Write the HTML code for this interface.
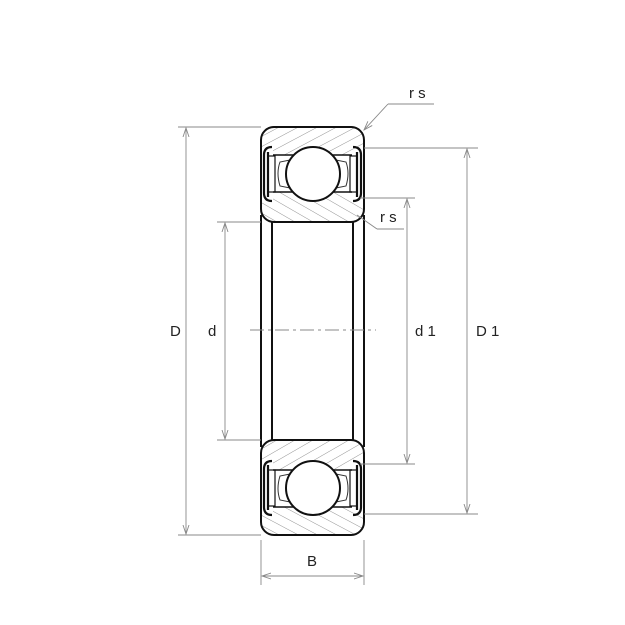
<!DOCTYPE html>
<html><head><meta charset="utf-8"><style>
html,body{margin:0;padding:0;background:#fff;}
svg{display:block;}
text{font-family:"Liberation Sans",sans-serif;font-size:15px;fill:#222;}
</style></head><body>
<svg width="625" height="625" viewBox="0 0 625 625" xmlns="http://www.w3.org/2000/svg">
<defs>
<pattern id="h1" width="9" height="9" patternUnits="userSpaceOnUse" patternTransform="rotate(62)">
<line x1="0" y1="0" x2="0" y2="9" stroke="#777" stroke-width="0.8"/>
</pattern>
<pattern id="h2" width="9" height="9" patternUnits="userSpaceOnUse" patternTransform="rotate(-60)">
<line x1="0" y1="0" x2="0" y2="9" stroke="#777" stroke-width="0.8"/>
</pattern>
<marker id="a" markerWidth="10" markerHeight="8" refX="9" refY="4" orient="auto" markerUnits="userSpaceOnUse">
<path d="M0,1 L9,4 L0,7" fill="none" stroke="#888" stroke-width="0.9"/>
</marker>
<g id="ring">
<path d="M261,140 Q261,127 274,127 L351,127 Q364,127 364,140 L364,150 L352,150 L352,155 L273,155 L273,150 L261,150 Z" fill="url(#h1)"/>
<path d="M261,200 L273,200 L273,192 L352,192 L352,200 L364,200 L364,209 Q364,222 351,222 L274,222 Q261,222 261,209 Z" fill="url(#h2)"/>
<rect x="261" y="127" width="103" height="95" rx="13" fill="none" stroke="#111" stroke-width="2"/>
<line x1="273" y1="155" x2="352" y2="155" stroke="#111" stroke-width="1.5"/>
<line x1="273" y1="192" x2="352" y2="192" stroke="#111" stroke-width="1.5"/>
<path d="M290,160 L280,162 Q276,173 280,186 L290,188" fill="#fff" stroke="#333" stroke-width="1"/>
<path d="M336,160 L346,162 Q350,173 346,186 L336,188" fill="#fff" stroke="#333" stroke-width="1"/>
<circle cx="313" cy="174" r="27" fill="#fff" stroke="#111" stroke-width="2"/>
<path d="M272,147 Q264,147 264,155 L264,193 Q264,201 272,201 M268,152 L268,197" fill="none" stroke="#111" stroke-width="2.2"/>
<rect x="268" y="156" width="7" height="36" fill="none" stroke="#111" stroke-width="1.2"/>
<path d="M353,147 Q361,147 361,155 L361,193 Q361,201 353,201 M357,152 L357,197" fill="none" stroke="#111" stroke-width="2.2"/>
<rect x="350" y="156" width="7" height="36" fill="none" stroke="#111" stroke-width="1.2"/>
</g>
</defs>
<use href="#ring"/>
<use href="#ring" transform="translate(0,662) scale(1,-1)"/>
<g stroke="#111" stroke-width="2">
<line x1="261" y1="215" x2="261" y2="447"/>
<line x1="364" y1="215" x2="364" y2="447"/>
<line x1="272" y1="222" x2="272" y2="440"/>
<line x1="353" y1="222" x2="353" y2="440"/>
</g>
<line x1="250" y1="330" x2="376" y2="330" stroke="#888" stroke-width="1" stroke-dasharray="14,4,3,4"/>
<g stroke="#888" stroke-width="0.9" fill="none">
<line x1="178" y1="127" x2="261" y2="127"/>
<line x1="178" y1="535" x2="261" y2="535"/>
<line x1="186" y1="330" x2="186" y2="128" marker-end="url(#a)"/>
<line x1="186" y1="330" x2="186" y2="534" marker-end="url(#a)"/>
<line x1="217" y1="222" x2="261" y2="222"/>
<line x1="217" y1="440" x2="261" y2="440"/>
<line x1="225" y1="330" x2="225" y2="223" marker-end="url(#a)"/>
<line x1="225" y1="330" x2="225" y2="439" marker-end="url(#a)"/>
<line x1="360" y1="198" x2="415" y2="198"/>
<line x1="360" y1="464" x2="415" y2="464"/>
<line x1="407" y1="330" x2="407" y2="199" marker-end="url(#a)"/>
<line x1="407" y1="330" x2="407" y2="463" marker-end="url(#a)"/>
<line x1="364" y1="148" x2="478" y2="148"/>
<line x1="364" y1="514" x2="478" y2="514"/>
<line x1="467" y1="330" x2="467" y2="149" marker-end="url(#a)"/>
<line x1="467" y1="330" x2="467" y2="513" marker-end="url(#a)"/>
<line x1="261" y1="540" x2="261" y2="585"/>
<line x1="364" y1="540" x2="364" y2="585"/>
<line x1="312" y1="576" x2="262" y2="576" marker-end="url(#a)"/>
<line x1="312" y1="576" x2="363" y2="576" marker-end="url(#a)"/>
<line x1="434" y1="104" x2="388" y2="104"/>
<line x1="388" y1="104" x2="364" y2="130" marker-end="url(#a)"/>
<line x1="404" y1="229" x2="377" y2="229"/>
<line x1="377" y1="229" x2="357" y2="215"/>
</g>
<text x="170" y="336">D</text>
<text x="208" y="336">d</text>
<text x="415" y="336">d 1</text>
<text x="476" y="336">D 1</text>
<text x="307" y="566">B</text>
<text x="409" y="98">r s</text>
<text x="380" y="222">r s</text>
</svg>
</body></html>
